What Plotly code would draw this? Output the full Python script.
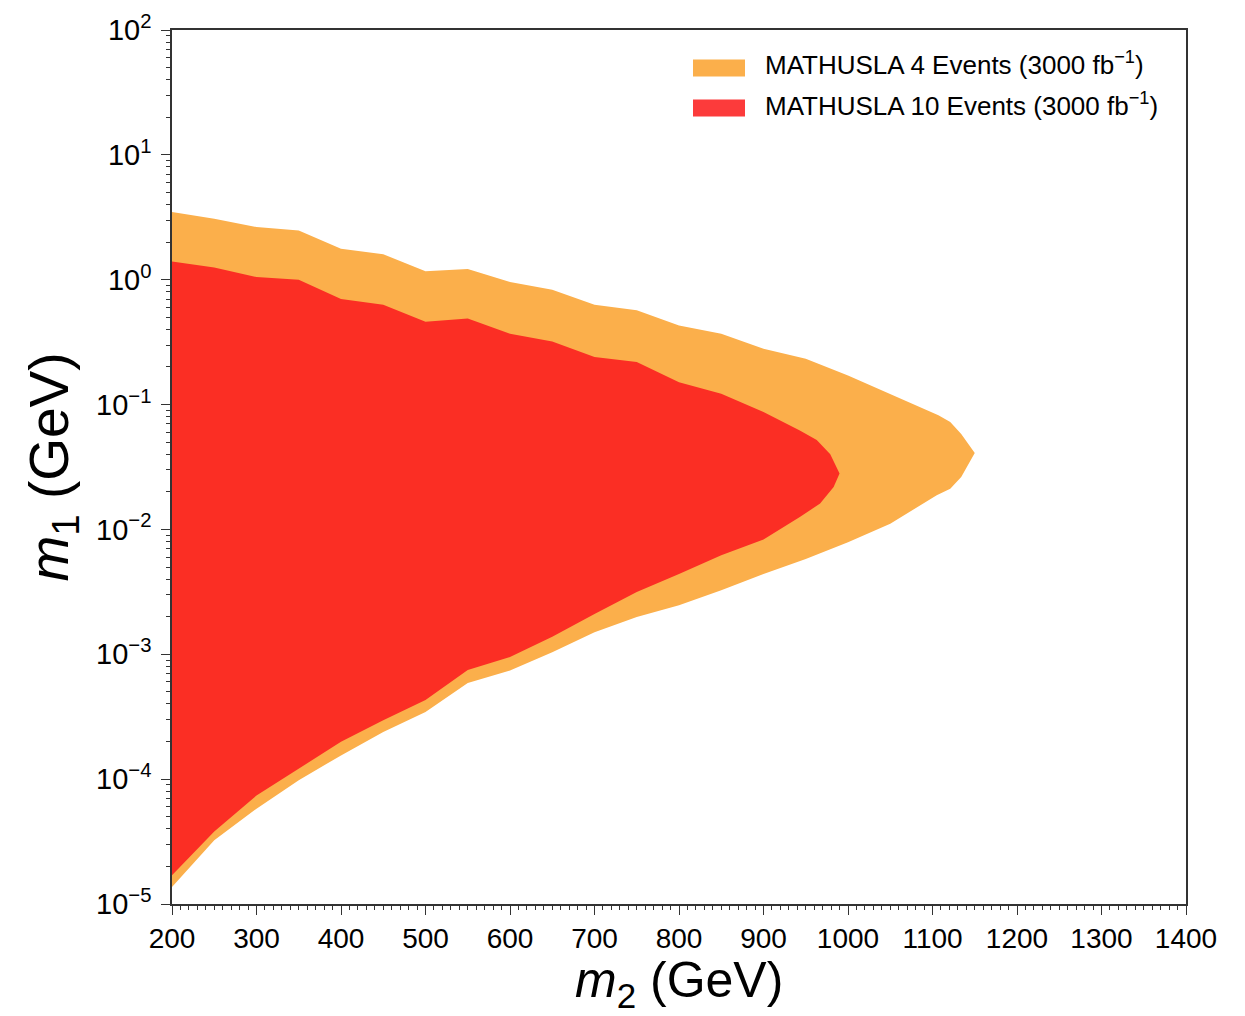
import plotly.graph_objects as go

# ---- data ----
# MATHUSLA 4 events: upper boundary (m2 in GeV, m1 in GeV)
m2_4ev_upper = [200, 250, 300, 350, 400, 450, 500, 550, 600, 650, 700, 750, 800, 850, 900, 950, 1000, 1050, 1107, 1121, 1134, 1150]
m1_4ev_upper = [3.48, 3.08, 2.64, 2.48, 1.77, 1.60, 1.17, 1.22, 0.96, 0.83, 0.63, 0.57, 0.43, 0.37, 0.28, 0.233, 0.171, 0.122, 0.082, 0.0725, 0.058, 0.041]
# lower boundary (from the tip back to 200 GeV)
m2_4ev_lower = [1134, 1121, 1105, 1050, 1000, 950, 900, 850, 800, 750, 700, 650, 600, 550, 500, 450, 400, 350, 300, 250, 200]
m1_4ev_lower = [0.0263, 0.0212, 0.0188, 0.0111, 0.0079, 0.0058, 0.0044, 0.00325, 0.00247, 0.00199, 0.00150, 0.00104, 0.00074, 0.00059, 0.000345, 0.000239, 0.000155, 0.000098, 0.000058, 0.0000324, 0.0000137]

# MATHUSLA 10 events
m2_10ev_upper = [200, 250, 300, 350, 400, 450, 500, 550, 600, 650, 700, 750, 800, 850, 900, 943, 963, 979, 990]
m1_10ev_upper = [1.40, 1.25, 1.05, 1.0, 0.70, 0.63, 0.46, 0.49, 0.37, 0.32, 0.24, 0.219, 0.151, 0.122, 0.087, 0.062, 0.052, 0.040, 0.028]
m2_10ev_lower = [983, 967, 943, 900, 850, 800, 750, 700, 650, 600, 550, 500, 450, 400, 350, 300, 250, 200]
m1_10ev_lower = [0.0219, 0.0161, 0.0126, 0.0083, 0.0062, 0.0044, 0.00315, 0.0021, 0.00138, 0.00095, 0.00075, 0.00043, 0.000296, 0.000199, 0.000122, 0.000074, 0.000038, 0.000017]

series_names = ["MATHUSLA 4 Events (3000 fb<sup>\u22121</sup>)",
                "MATHUSLA 10 Events (3000 fb<sup>\u22121</sup>)"]

x_title = "<i>m</i><sub>2</sub> (GeV)"
y_title = "<i>m</i><sub>1</sub> (GeV)"

x_ticks = [200, 300, 400, 500, 600, 700, 800, 900, 1000, 1100, 1200, 1300, 1400]
y_exponents = [-5, -4, -3, -2, -1, 0, 1, 2]

ORANGE = "#FBAF4B"
RED = "#FB2E24"
LEGEND_RED = "#FC3B3B"
FONT = "Liberation Sans, Arial, Helvetica, sans-serif"

fig = go.Figure()
fig.add_trace(go.Scatter(
    x=m2_4ev_upper + m2_4ev_lower,
    y=m1_4ev_upper + m1_4ev_lower,
    fill="toself", fillcolor=ORANGE, mode="lines",
    line=dict(width=0, color=ORANGE),
    name=series_names[0], showlegend=False, hoverinfo="skip"))
fig.add_trace(go.Scatter(
    x=m2_10ev_upper + m2_10ev_lower,
    y=m1_10ev_upper + m1_10ev_lower,
    fill="toself", fillcolor=RED, mode="lines",
    line=dict(width=0, color=RED),
    name=series_names[1], showlegend=False, hoverinfo="skip"))

# legend drawn as patches + labels (matplotlib-style rectangles)
L, T, W, H = 172, 30, 1014, 874  # plot area in px (from margins)
def px_x(p):
    return (p - L) / W
def px_y(p):
    return 1 - (p - T) / H

legend_colors = [ORANGE, LEGEND_RED]
for i, (name, col) in enumerate(zip(series_names, legend_colors)):
    yc = 68 + 40 * i
    fig.add_shape(type="rect", xref="paper", yref="paper",
                  x0=px_x(693), x1=px_x(745), y0=px_y(yc + 8.5), y1=px_y(yc - 8.5),
                  fillcolor=col, line=dict(width=0))
    fig.add_annotation(xref="paper", yref="paper", x=px_x(763), y=px_y(yc - 4),
                       xanchor="left", yanchor="middle", showarrow=False,
                       text=name, font=dict(family=FONT, size=26, color="black"))

# x-axis title as an annotation, at the bottom of the page as in the reference
fig.add_annotation(xref="paper", yref="paper", x=0.5, y=px_y(1016),
                   xanchor="center", yanchor="bottom", showarrow=False, borderpad=0,
                   text=x_title, font=dict(family=FONT, size=50, color="black"))

y_tickvals = [10.0 ** e for e in y_exponents]
y_ticktext = ["10<sup>" + ("\u2212" if e < 0 else "") + str(abs(e)) + "</sup>" for e in y_exponents]
y_minor = [k * 10.0 ** e for e in y_exponents[:-1] for k in range(2, 10)]

fig.update_xaxes(
    range=[200, 1400], tickvals=x_ticks, ticktext=[str(v) for v in x_ticks],
    ticks="outside", ticklen=9, tickwidth=1.3, tickcolor="#333",
    showline=True, linecolor="#333", linewidth=1.5, mirror=True,
    showgrid=False, zeroline=False, automargin=False,
    tickfont=dict(family=FONT, size=28, color="black"),
    minor=dict(ticks="outside", ticklen=4, tickwidth=1, tickcolor="#333", dtick=10, tick0=200, showgrid=False),
)
fig.update_yaxes(
    type="log", range=[-5, 2], tickmode="array", tickvals=y_tickvals, ticktext=y_ticktext,
    ticks="outside", ticklen=9, tickwidth=1.3, tickcolor="#333",
    showline=True, linecolor="#333", linewidth=1.5, mirror=True,
    showgrid=False, zeroline=False, ticklabelstandoff=4, automargin=False,
    tickfont=dict(family=FONT, size=29, color="black"),
    minor=dict(ticks="outside", ticklen=4, tickwidth=1, tickcolor="#333", tickmode="array", tickvals=y_minor, showgrid=False),
    title=dict(text=y_title, font=dict(family=FONT, size=55, color="black"), standoff=10),
)

fig.update_layout(
    width=1245, height=1016,
    margin=dict(l=172, r=59, t=30, b=112),
    paper_bgcolor="white", plot_bgcolor="white",
    showlegend=False,
)

fig.write_html("out.html")
